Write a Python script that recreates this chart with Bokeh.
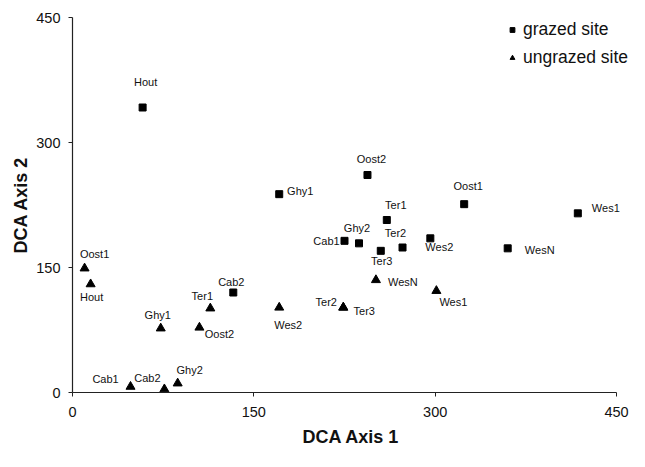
from bokeh.plotting import figure
from bokeh.models import ColumnDataSource, FixedTicker, Legend, LegendItem, Range1d
from bokeh.core.properties import value
from bokeh.embed import file_html
from bokeh.resources import INLINE

# ---- data ----
x_ticks = [0, 150, 300, 450]
y_ticks = [0, 150, 300, 450]

grazed_names = ["Hout", "Ghy1", "Oost2", "Oost1", "Wes1", "Ter1", "Ghy2",
                "Cab1", "Ter3", "Ter2", "Wes2", "WesN", "Cab2"]
grazed_x = [58, 171, 244, 324, 418, 260, 237, 225, 255, 273, 296, 360, 133]
grazed_y = [342, 238, 261, 226, 215, 207, 179, 182, 170, 174, 185, 173, 120]

ungrazed_names = ["Oost1", "Hout", "Ghy1", "Ter1", "Oost2", "Wes2", "Cab1",
                  "Cab2", "Ghy2", "Ter2", "Ter3", "WesN", "Wes1"]
ungrazed_x = [10, 15, 73, 114, 105, 171, 48, 76, 87, 224, 224, 251, 301]
ungrazed_y = [149, 130, 77, 101, 78, 102, 7, 4, 11, 102, 102, 135, 122]

# ---- label placement (screen pixel offsets of label centres) ----
grazed_dx = [3, 21, 4, 4, 28, 9, -2, -18, 1, -7, 9, 32, -2]
grazed_dy = [-26, -3, -16, -18, -5, -15, -15, 0, 10, -15, 9, 2, -11]
ungrazed_dx = [10, 1, -3, -8, 20, 9, -25, -17, 12, -17, 21, 27, 17]
ungrazed_dy = [-14, 13, -13, -12, 6, 17, -8, -11, -13, -6, 3, 2, 11]

FONT = "Liberation Sans"
INK = "#111111"

# ---- layout ----
W, H = 629, 451
LEFT, TOP, BOTTOM = 72, 17, 59
X_PIX_450 = 544                      # pixels used by 0..450 on x
frame_w = W - LEFT
frame_h = H - TOP - BOTTOM
x_end = x_ticks[-1] * frame_w / X_PIX_450

src_g = ColumnDataSource(dict(x=grazed_x, y=grazed_y, name=grazed_names,
                              dx=grazed_dx, dy=grazed_dy))
src_u = ColumnDataSource(dict(x=ungrazed_x, y=ungrazed_y, name=ungrazed_names,
                              dx=ungrazed_dx, dy=ungrazed_dy))

p = figure(width=W, height=H, output_backend="svg", toolbar_location=None,
           x_range=Range1d(x_ticks[0], x_end),
           y_range=Range1d(y_ticks[0], y_ticks[-1]),
           min_border_left=LEFT, min_border_right=0,
           min_border_top=TOP, min_border_bottom=BOTTOM)
p.outline_line_color = None
p.grid.visible = False
p.background_fill_color = "white"

r_g = p.scatter(x="x", y="y", source=src_g, marker="square", size=7,
                fill_color="black", line_color="black")
r_u = p.scatter(x="x", y="y", source=src_u, marker="triangle", size=9,
                fill_color="black", line_color="black")

for src in (src_g, src_u):
    p.text(x="x", y="y", text="name", x_offset="dx", y_offset="dy", source=src,
           text_align="center", text_baseline="middle",
           text_font=value(FONT), text_font_size=value("11px"), text_color=INK)

p.xaxis.ticker = FixedTicker(ticks=x_ticks)
p.yaxis.ticker = FixedTicker(ticks=y_ticks)
p.xaxis.bounds = (x_ticks[0], x_ticks[-1])
p.xaxis.axis_label = "DCA Axis 1"
p.yaxis.axis_label = "DCA Axis 2"
for ax in (p.xaxis, p.yaxis):
    ax.axis_line_color = "#222222"
    ax.axis_line_width = 1.2
    ax.major_tick_line_color = "#222222"
    ax.major_tick_in = 0
    ax.major_tick_out = 4
    ax.minor_tick_line_color = None
    ax.major_label_text_font = FONT
    ax.major_label_text_font_size = "14.5px"
    ax.major_label_text_color = INK
    ax.axis_label_text_font = FONT
    ax.axis_label_text_font_size = "18px"
    ax.axis_label_text_font_style = "bold"
    ax.axis_label_text_color = INK
p.xaxis.major_label_standoff = 10
p.xaxis.axis_label_standoff = 7
p.yaxis.major_label_standoff = 8
p.yaxis.axis_label_standoff = 2

legend = Legend(items=[LegendItem(label="grazed site", renderers=[r_g]),
                       LegendItem(label="ungrazed site", renderers=[r_u])],
                location=(434, frame_h - 53), padding=0, margin=0, spacing=3,
                glyph_width=12, glyph_height=25, label_height=25,
                label_standoff=5, label_text_font=FONT,
                label_text_font_size="17.5px", label_text_color=INK,
                border_line_alpha=0, background_fill_alpha=0)
p.add_layout(legend)

open("out.html", "w").write(file_html(p, INLINE))
